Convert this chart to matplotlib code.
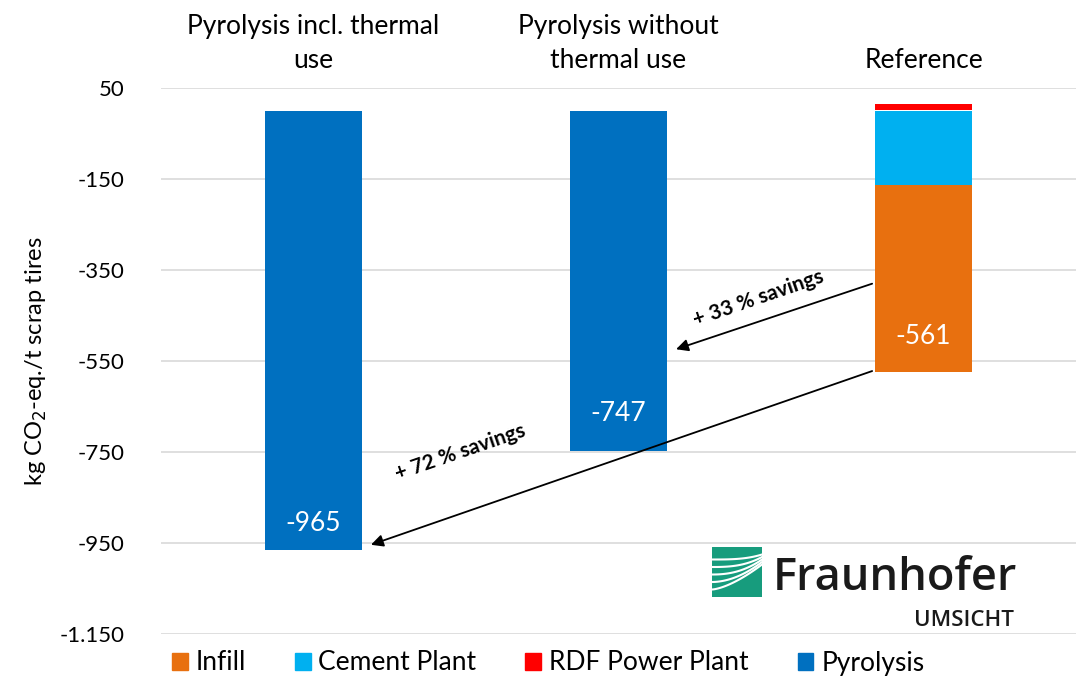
import matplotlib.pyplot as plt
import matplotlib.patches as mpatches
import numpy as np

plt.rcParams['font.family'] = ['Lato', 'DejaVu Sans']

categories = ['Pyrolysis incl. thermal\nuse', 'Pyrolysis without\nthermal use', 'Reference']
pyrolysis = [-965, -747, 0]
infill = [0, 0, -412]
cement = [0, 0, -163]
rdf = [0, 0, 14]
totals = [-965, -747, -561]
y_ticks = [50, -150, -350, -550, -750, -950, -1150]

C_INFILL = '#E8700F'
C_CEMENT = '#00B0F0'
C_RDF = '#FF0000'
C_PYRO = '#0070C0'


def fmt_de(v):
    ''' Tausendertrennzeichen als Punkt '''
    s = f'{abs(v):,}'.replace(',', '.')
    return ('-' if v < 0 else '') + s


fig = plt.figure(figsize=(10.87, 6.78), dpi=100)
ax = fig.add_axes([0.148, 0.065, 0.842, 0.805])

x = np.arange(len(categories))
w = 0.32
ax.bar(x, pyrolysis, w, color=C_PYRO, zorder=3)
ax.bar(x, cement, w, color=C_CEMENT, zorder=3)
ax.bar(x, infill, w, bottom=cement, color=C_INFILL, zorder=3)
ax.bar(x, rdf, w, bottom=[1.5 if r else 0 for r in rdf], color=C_RDF, zorder=3)

ax.set_xlim(-0.5, 2.5)
ax.set_ylim(-1150, 50)
ax.set_yticks(y_ticks)
ax.set_yticklabels([fmt_de(v) for v in y_ticks], fontsize=16)
ax.yaxis.grid(True, color='#D9D9D9', linewidth=1.2, zorder=0)
ax.tick_params(axis='y', length=0, pad=26)
for s in ax.spines.values():
    s.set_visible(False)

ax.xaxis.tick_top()
ax.set_xticks(x)
ax.set_xticklabels(categories, fontsize=19, linespacing=1.45)
ax.tick_params(axis='x', length=0, pad=11)

ax.set_ylabel('kg CO$_2$-eq./t scrap tires', fontsize=17, labelpad=8)

# Werte in den Balken
label_y = [-908, -666, -495]
for xi, (t, ly) in enumerate(zip(totals, label_y)):
    ax.text(xi, ly, fmt_de(t), color='white', fontsize=19, ha='center', va='center', zorder=5)

# Pfeile
arrow = dict(arrowstyle='-|>', color='black', lw=1.3, mutation_scale=18)
ax.annotate('', xy=(1.18, -526), xytext=(1.84, -378), arrowprops=arrow, zorder=6)
ax.annotate('', xy=(0.18, -956), xytext=(1.84, -570), arrowprops=arrow, zorder=6)
ax.text(1.46, -412, '+ 33 % savings', rotation=19, fontsize=15, fontweight='bold',
        ha='center', va='center', zorder=6)
ax.text(0.48, -750, '+ 72 % savings', rotation=19, fontsize=15, fontweight='bold',
        ha='center', va='center', zorder=6)

# Logo
lax = fig.add_axes([712 / 1087, 1 - 597 / 678, 50 / 1087, 50 / 678])
lax.set_xlim(0, 1)
lax.set_ylim(0, 1)
lax.add_patch(mpatches.Rectangle((0, 0), 1, 1, color='#179C7D'))
t = np.linspace(0, 1, 50)
for k in range(5):
    lax.plot(t, 0.15 + 0.15 * k + 0.5 * t ** (1.5 + k * 0.4) * (1 - 0.2 * k),
             color='white', lw=1.5)
lax.axis('off')
fig.text(773 / 1087, 1 - 578 / 678, 'Fraunhofer', fontsize=32.5, family='Open Sans',
         fontweight='semibold', ha='left', va='center', color='#1a1a1a')
fig.text(1014 / 1087, 1 - 621 / 678, 'UMSICHT', fontsize=16, fontweight='semibold',
         family='Open Sans', ha='right', va='center', color='#1a1a1a')

# Legende
handles = [mpatches.Patch(color=C_INFILL, label='Infill'),
           mpatches.Patch(color=C_CEMENT, label='Cement Plant'),
           mpatches.Patch(color=C_RDF, label='RDF Power Plant'),
           mpatches.Patch(color=C_PYRO, label='Pyrolysis')]
fig.legend(handles=handles, loc='center left', bbox_to_anchor=(148 / 1087, 1 - 663 / 678),
           ncol=4, frameon=False, fontsize=19, handlelength=0.6, handleheight=0.6,
           handletextpad=0.3, columnspacing=1.85)

fig.savefig('out.png', dpi=100)
